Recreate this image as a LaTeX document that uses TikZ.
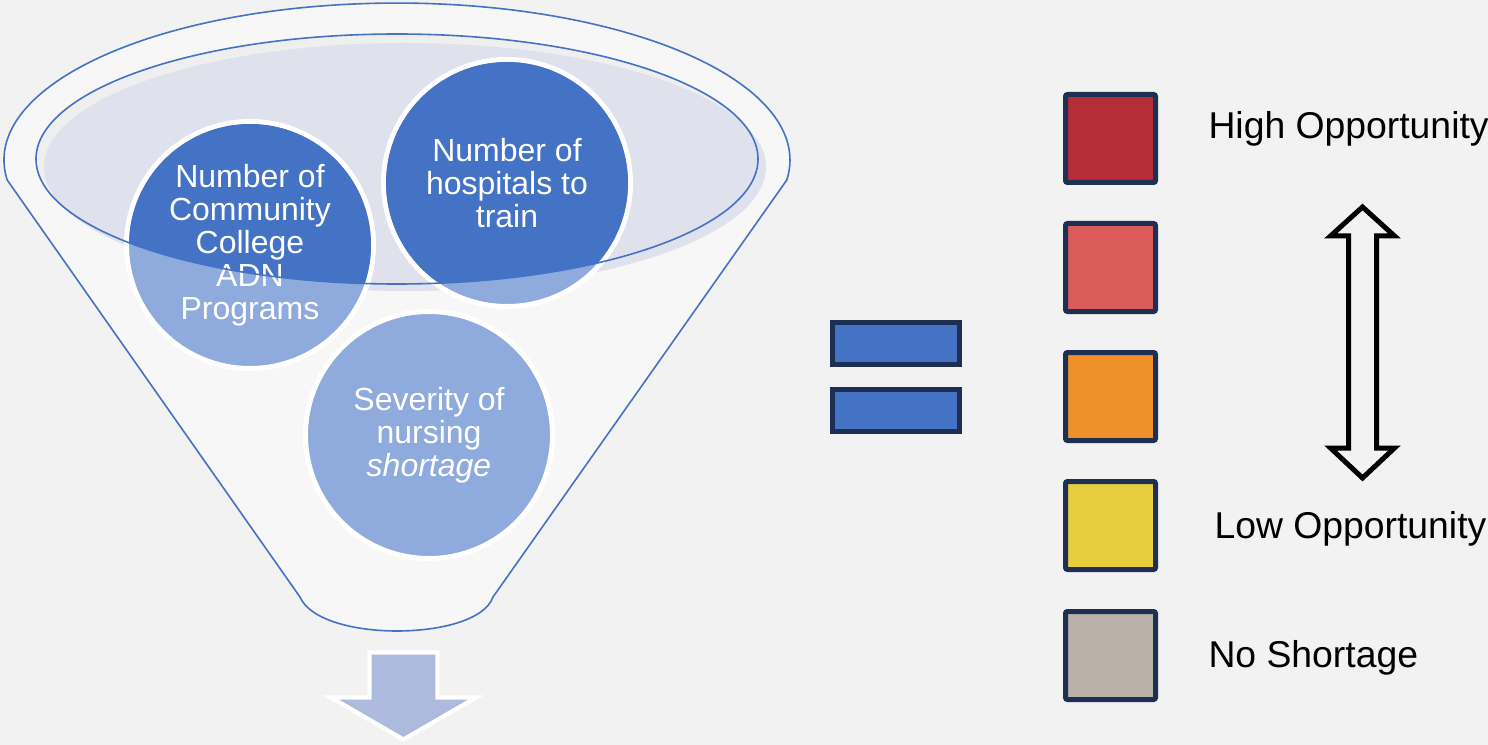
\documentclass[tikz,border=0pt]{standalone}
\usepackage{fontspec}
\setmainfont{Liberation Sans}
\usetikzlibrary{positioning}

\definecolor{pagegray}{HTML}{F2F2F2}
\definecolor{funnelbody}{HTML}{F7F7F7}
\definecolor{rimshade}{HTML}{EFEFF0}
\definecolor{rimfill}{HTML}{DFE1EC}
\definecolor{rimblue}{HTML}{4472C4}
\definecolor{paleblue}{HTML}{8FAADC}
\definecolor{arrowblue}{HTML}{ADBADD}
\definecolor{navy}{HTML}{1D3054}
\definecolor{highred}{HTML}{B52D36}
\definecolor{midred}{HTML}{DB5B5A}
\definecolor{midorange}{HTML}{EF912A}
\definecolor{lowyellow}{HTML}{E8CD3F}
\definecolor{nonegray}{HTML}{BAB1A8}

\tikzset{every picture/.style={line width=0.75pt}}
\tikzset{
  bubble/.style={circle, draw=white, line width=3.75pt, fill=paleblue, minimum size=185.25pt, inner sep=0pt},
  bubbletext/.style={text=white, align=center, inner sep=0pt, font=\fontsize{24}{24.75}\selectfont},
  eqbar/.style={draw=navy, fill=rimblue, line width=3.75pt, minimum width=95.25pt, minimum height=31.5pt, inner sep=0pt},
  legendbox/.style={draw=navy, line width=3.75pt, rounded corners=1.5pt, minimum width=67.5pt, minimum height=66pt, inner sep=0pt},
  legendtext/.style={anchor=west, inner sep=0pt, font=\fontsize{28}{33}\selectfont}
}

\begin{document}
\begin{tikzpicture}[x=0.75pt,y=0.75pt,yscale=-1,xscale=1]
\useasboundingbox (0,0) rectangle (1488,745);
\fill[pagegray] (0,0) rectangle (1488,745);

%Shape: Funnel
\draw[draw=rimblue, fill=funnelbody, line width=1.2pt] (7.2,180) arc [start angle=172.7, end angle=367.3, x radius=393, y radius=157] -- (493,597) .. controls (485,620) and (440,631) .. (397,631) .. controls (354,631) and (310,620) .. (300,597) -- cycle ;
%Shape: Ellipse
\fill[rimshade] (397,159) ellipse [x radius=361, y radius=125] ;
%Shape: Ellipse
\fill[rimfill] (405,167) ellipse [x radius=361, y radius=124] ;

%Shape: Circles
\node[bubble] (adn) at (250,245) {};
\node[bubble] (hosp) at (507,183) {};
\node[bubble] (sev) at (429,435) {};
\begin{scope}
\clip (397,159) ellipse [x radius=361, y radius=125] ;
\fill[rimblue] (adn.center) circle [radius=121] ;
\fill[rimblue] (hosp.center) circle [radius=121] ;
\end{scope}

% Text Node
\node[bubbletext] (adnlbl) at (adn.center) {Number of\\Community\\College\\ADN\\Programs};
% Text Node
\node[bubbletext] (hosplbl) at (hosp.center) {Number of\\hospitals to\\train};
% Text Node
\node[bubbletext] (sevlbl) at (sev.center) {Severity of\\nursing\\\textit{shortage}};

%Shape: Ellipse
\draw[rimblue, line width=1.2pt] (397,159) ellipse [x radius=361, y radius=125] ;

%Shape: Down Arrow
\draw[draw=white, fill=arrowblue, line width=3.2pt, line join=miter] (369.5,652.5) -- (437.5,652.5) -- (437.5,697.5) -- (476,697.5) -- (403.5,739.5) -- (331,697.5) -- (369.5,697.5) -- cycle ;

%Shape: Equals
\node[eqbar] (eqtop) at (896,343.5) {};
\node[eqbar] (eqbot) at (896,410.5) {};

%Shape: Legend boxes
\node[legendbox, fill=highred] (high) at (1110.5,138.5) {};
\node[legendbox, fill=midred] (midhigh) at (1110.5,267.5) {};
\node[legendbox, fill=midorange] (mid) at (1110.5,396.5) {};
\node[legendbox, fill=lowyellow] (low) at (1110.5,525.5) {};
\node[legendbox, fill=nonegray] (none) at (1110.5,655.5) {};

% Text Node
\node[legendtext] (highlbl) at (1208,129) {High Opportunity};
% Text Node
\node[legendtext] (lowlbl) at (1214,529) {Low Opportunity};
% Text Node
\node[legendtext] (nonelbl) at (1208,658) {No Shortage};

%Shape: Double Arrow
\draw[black, line width=3.75pt, line join=miter] (1362.5,207) -- (1394.5,236) -- (1376.5,236) -- (1376.5,448) -- (1394.5,448) -- (1362.5,478) -- (1330.5,448) -- (1348.5,448) -- (1348.5,236) -- (1330.5,236) -- cycle ;

\end{tikzpicture}
\end{document}
